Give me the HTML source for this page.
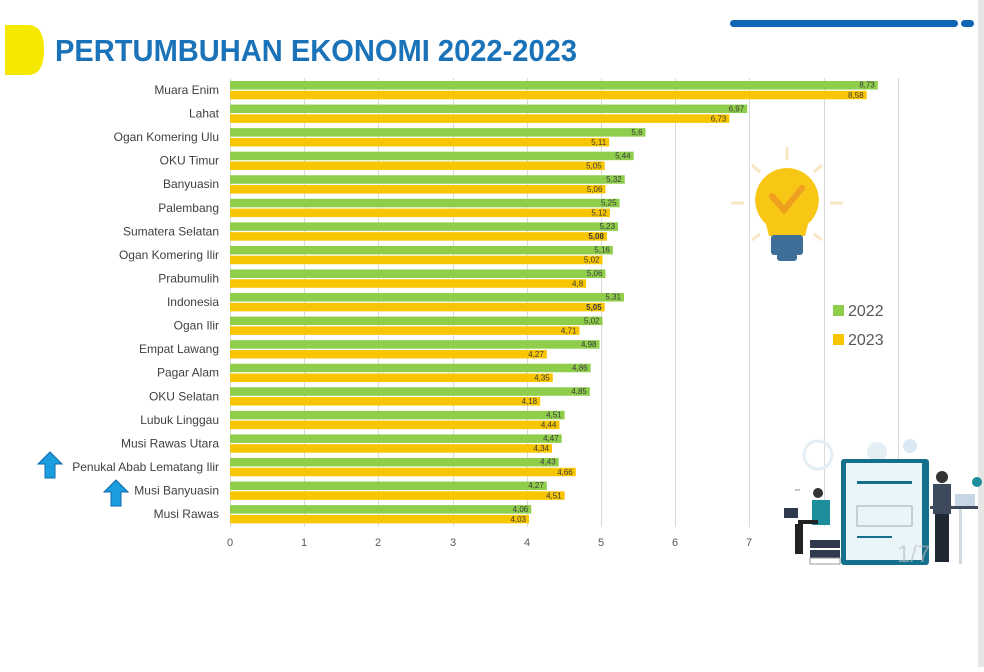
<!DOCTYPE html>
<html><head><meta charset="utf-8"><style>
body{margin:0;width:984px;height:667px;background:#fff;overflow:hidden;font-family:"Liberation Sans",sans-serif}
</style></head><body>
<svg width="984" height="667" viewBox="0 0 984 667" xmlns="http://www.w3.org/2000/svg" font-family="Liberation Sans, sans-serif">
<rect x="978" y="0" width="6" height="667" fill="#e6e6e6"/>
<path d="M5 25 H28 Q44 25 44 50 Q44 75 28 75 H5 Z" fill="#f5e900"/>
<text x="55" y="61" font-size="31" font-weight="bold" fill="#1a72b8" textLength="522" lengthAdjust="spacingAndGlyphs">PERTUMBUHAN EKONOMI 2022-2023</text>
<rect x="730" y="20" width="228" height="7" rx="3.5" fill="#1066b4"/>
<rect x="961" y="20" width="13" height="7" rx="3.5" fill="#1066b4"/>
<g stroke="#d9d9d9" stroke-width="1">
<line x1="230.5" y1="78" x2="230.5" y2="527"/>
<line x1="304.5" y1="78" x2="304.5" y2="527"/><line x1="378.5" y1="78" x2="378.5" y2="527"/>
<line x1="453.5" y1="78" x2="453.5" y2="527"/><line x1="527.5" y1="78" x2="527.5" y2="527"/>
<line x1="601.5" y1="78" x2="601.5" y2="527"/><line x1="675.5" y1="78" x2="675.5" y2="527"/>
<line x1="749.5" y1="78" x2="749.5" y2="527"/><line x1="824.5" y1="78" x2="824.5" y2="527"/>
<line x1="898.5" y1="78" x2="898.5" y2="527"/>
</g>
<g font-size="11" fill="#595959" text-anchor="middle">
<text x="230" y="546">0</text><text x="304" y="546">1</text><text x="378" y="546">2</text><text x="453" y="546">3</text><text x="527" y="546">4</text><text x="601" y="546">5</text><text x="675" y="546">6</text><text x="749" y="546">7</text>
</g>
<g id="bars"></g>
<!-- bulb -->
<g>
<g stroke="#f8e6c4" stroke-width="3"><line x1="787" y1="147" x2="787" y2="160"/><line x1="752" y1="165" x2="760" y2="172"/><line x1="822" y1="165" x2="814" y2="172"/><line x1="731" y1="203" x2="744" y2="203"/><line x1="830" y1="203" x2="843" y2="203"/><line x1="752" y1="240" x2="760" y2="234"/><line x1="822" y1="240" x2="814" y2="234"/></g>
<path d="M787 168 A32 32 0 0 1 808 224 L805 236 H769 L766 224 A32 32 0 0 1 787 168Z" fill="#f8c614"/>
<path d="M772 196 L784 210 L802 188" stroke="#f0a020" stroke-width="6" fill="none" stroke-linecap="round"/>
<rect x="771" y="235" width="32" height="20" rx="3" fill="#3f6f99"/>
<rect x="777" y="253" width="20" height="8" rx="3" fill="#3f6f99"/>
</g>
<rect x="833" y="305" width="11" height="11" fill="#8fce4b"/>
<text x="848" y="316" font-size="16" fill="#595959">2022</text>
<rect x="833" y="334" width="11" height="11" fill="#f8c600"/>
<text x="848" y="345" font-size="16" fill="#595959">2023</text>
<!-- illustration -->
<g>
<circle cx="818" cy="455" r="14" fill="none" stroke="#e3eef5" stroke-width="3"/>
<circle cx="877" cy="452" r="10" fill="#e3eef5"/><circle cx="910" cy="446" r="7" fill="#dbe9f4"/>
<rect x="841" y="459" width="88" height="106" rx="3" fill="#15708e"/>
<rect x="846" y="463" width="76" height="97" fill="#eaf5fa"/>
<rect x="857" y="481" width="55" height="3" fill="#15708e"/>
<rect x="857" y="506" width="55" height="20" fill="none" stroke="#9ab" stroke-width="1"/>
<rect x="857" y="536" width="35" height="2" fill="#15708e"/>
<path d="M795 490 l5 0" stroke="#888"/>
<rect x="812" y="500" width="18" height="25" fill="#1d8f9c"/>
<circle cx="818" cy="493" r="5" fill="#333"/>
<rect x="798" y="520" width="20" height="4" fill="#222"/><rect x="795" y="524" width="8" height="30" fill="#222"/>
<rect x="810" y="540" width="30" height="8" fill="#2f3b4c"/><rect x="810" y="550" width="30" height="8" fill="#2f3b4c"/><rect x="810" y="558" width="30" height="6" fill="#fff" stroke="#999"/>
<rect x="784" y="508" width="14" height="10" fill="#2f3b4c"/>
<circle cx="942" cy="477" r="6" fill="#333"/>
<rect x="933" y="484" width="18" height="30" fill="#3c4a5c"/>
<rect x="935" y="514" width="14" height="48" fill="#1f2733"/>
<rect x="930" y="506" width="48" height="3" fill="#3c4a5c"/>
<rect x="955" y="494" width="20" height="12" fill="#c6d6e4"/>
<rect x="959" y="509" width="3" height="55" fill="#d0d8e0"/>
<circle cx="977" cy="482" r="5" fill="#1d8f9c"/>
<text x="897" y="562" font-size="24" fill="#bbb" opacity="0.6">1/7</text>
</g>
<!-- arrows -->
<path d="M50 452 L62 464 H55 V478 H45 V464 H38 Z" fill="#1a9ee0" stroke="#0d6aa8" stroke-width="1"/>
<path d="M116 480 L128 492 H121 V506 H111 V492 H104 Z" fill="#1a9ee0" stroke="#0d6aa8" stroke-width="1"/>
</svg>
<script>
var d=[["Muara Enim",8.73,8.58],["Lahat",6.97,6.73],["Ogan Komering Ulu",5.6,5.11],["OKU Timur",5.44,5.05],["Banyuasin",5.32,5.06],["Palembang",5.25,5.12],["Sumatera Selatan",5.23,5.08,1],["Ogan Komering Ilir",5.16,5.02],["Prabumulih",5.06,4.8],["Indonesia",5.31,5.05,1],["Ogan Ilir",5.02,4.71],["Empat Lawang",4.98,4.27],["Pagar Alam",4.86,4.35],["OKU Selatan",4.85,4.18],["Lubuk Linggau",4.51,4.44],["Musi Rawas Utara",4.47,4.34],["Penukal Abab Lematang Ilir",4.43,4.66],["Musi Banyuasin",4.27,4.51],["Musi Rawas",4.06,4.03]];
var g=document.getElementById("bars"),s="",ns="http://www.w3.org/2000/svg";
function f(v){return String(v).replace(".",",");}
d.forEach(function(r,i){var c=90+i*23.56,x0=230,k=74.2;
var w1=r[1]*k,w2=r[2]*k;
s+='<rect x="'+x0+'" y="'+(c-9)+'" width="'+w1+'" height="8.5" fill="#8fce4b"/>';
s+='<rect x="'+x0+'" y="'+(c+0.8)+'" width="'+w2+'" height="8.5" fill="#f8c600"/>';
s+='<text x="'+(x0+w1-3)+'" y="'+(c-2.3)+'" font-size="8" fill="#3a3a3a" text-anchor="end">'+f(r[1])+'</text>';
s+='<text x="'+(x0+w2-3)+'" y="'+(c+7.8)+'" font-size="8" fill="#3a3a3a" text-anchor="end"'+(r[3]?' font-weight="bold"':'')+'>'+f(r[2])+'</text>';
s+='<text x="219" y="'+(c+4)+'" font-size="12" fill="#404040" text-anchor="end">'+r[0]+'</text>';});
g.innerHTML=s;
</script>
</body></html>
